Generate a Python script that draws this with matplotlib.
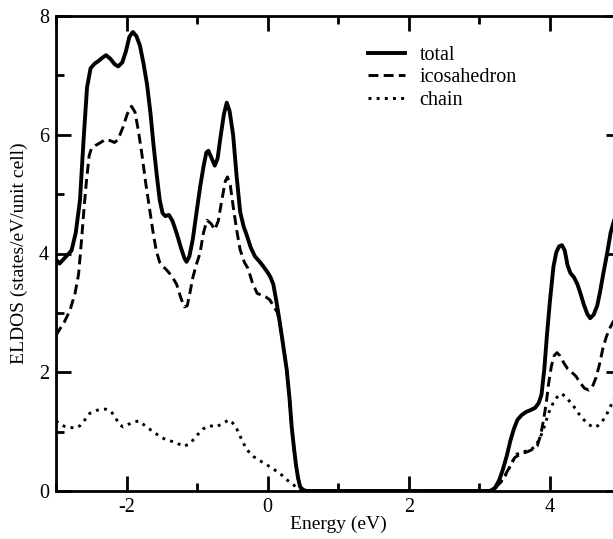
"""
Electronic local density of states: total, icosahedron and chain projections.
"""

import matplotlib
matplotlib.use("Agg")
import matplotlib.pyplot as plt
from matplotlib.ticker import MultipleLocator

# ── Data ──────────────────────────────────────────────────────────────────────
E_TOTAL = [
    -3.00, -2.95, -2.88, -2.78, -2.72, -2.66, -2.61, -2.56, -2.51, -2.45,
    -2.40, -2.34, -2.29, -2.23, -2.17, -2.12, -2.06, -2.01, -1.96, -1.91,
    -1.86, -1.81, -1.76, -1.71, -1.66, -1.62, -1.57, -1.53, -1.49, -1.45,
    -1.40, -1.35, -1.29, -1.23, -1.18, -1.15, -1.11, -1.06, -1.01, -0.96,
    -0.91, -0.87, -0.84, -0.80, -0.75, -0.71, -0.67, -0.62, -0.58, -0.54,
    -0.49, -0.44, -0.39, -0.34, -0.30, -0.24, -0.18, -0.12, -0.06, 0.00,
    0.04, 0.08, 0.13, 0.18, 0.22, 0.27, 0.31, 0.34, 0.37, 0.40,
    0.43, 0.46, 0.50, 0.55, 3.15, 3.22, 3.28, 3.33, 3.39, 3.44,
    3.49, 3.54, 3.60, 3.66, 3.72, 3.79, 3.84, 3.88, 3.92, 3.96,
    4.00, 4.05, 4.09, 4.13, 4.17, 4.21, 4.25, 4.29, 4.34, 4.39,
    4.44, 4.48, 4.53, 4.57, 4.62, 4.67, 4.71, 4.75, 4.81, 4.86,
    4.90, 4.95, 5.00,
]
DOS_TOTAL = [
    3.90, 3.83, 3.92, 4.05, 4.35, 4.90, 5.90, 6.80, 7.12, 7.20,
    7.24, 7.30, 7.34, 7.28, 7.19, 7.15, 7.22, 7.40, 7.65, 7.73,
    7.66, 7.50, 7.20, 6.85, 6.35, 5.85, 5.30, 4.90, 4.68, 4.63,
    4.65, 4.55, 4.34, 4.10, 3.92, 3.86, 3.95, 4.25, 4.68, 5.10,
    5.46, 5.70, 5.73, 5.62, 5.48, 5.60, 5.95, 6.35, 6.54, 6.40,
    6.00, 5.30, 4.70, 4.45, 4.32, 4.10, 3.95, 3.87, 3.78, 3.68,
    3.60, 3.48, 3.15, 2.77, 2.45, 2.04, 1.55, 1.08, 0.75, 0.45,
    0.22, 0.07, 0.02, 0.00, 0.00, 0.05, 0.18, 0.35, 0.60, 0.85,
    1.05, 1.20, 1.28, 1.33, 1.36, 1.40, 1.48, 1.62, 2.05, 2.66,
    3.20, 3.78, 4.02, 4.12, 4.14, 4.05, 3.80, 3.67, 3.60, 3.48,
    3.30, 3.14, 2.98, 2.91, 2.97, 3.12, 3.35, 3.62, 4.00, 4.35,
    4.52, 4.72, 4.85,
]

E_ICOSA = [
    -3.00, -2.95, -2.88, -2.80, -2.73, -2.68, -2.64, -2.60, -2.57, -2.53,
    -2.50, -2.44, -2.38, -2.30, -2.23, -2.17, -2.12, -2.05, -1.99, -1.93,
    -1.88, -1.83, -1.78, -1.73, -1.68, -1.63, -1.58, -1.53, -1.48, -1.43,
    -1.36, -1.29, -1.23, -1.18, -1.14, -1.10, -1.06, -1.01, -0.96, -0.91,
    -0.86, -0.80, -0.75, -0.70, -0.65, -0.60, -0.57, -0.53, -0.49, -0.44,
    -0.39, -0.33, -0.28, -0.22, -0.15, -0.09, -0.03, 0.03, 0.09, 0.14,
    0.18, 0.22, 0.27, 0.31, 0.34, 0.37, 0.40, 0.43, 0.46, 0.50,
    0.55, 3.15, 3.22, 3.28, 3.34, 3.39, 3.45, 3.50, 3.55, 3.62,
    3.68, 3.75, 3.82, 3.87, 3.91, 3.95, 3.98, 4.02, 4.06, 4.10,
    4.14, 4.20, 4.25, 4.31, 4.37, 4.43, 4.49, 4.55, 4.60, 4.65,
    4.70, 4.75, 4.80, 4.86, 4.92, 5.00,
]
DOS_ICOSA = [
    2.62, 2.72, 2.85, 3.05, 3.33, 3.65, 4.20, 4.80, 5.20, 5.65,
    5.76, 5.82, 5.86, 5.92, 5.90, 5.87, 5.92, 6.13, 6.35, 6.48,
    6.38, 6.05, 5.65, 5.20, 4.80, 4.40, 4.05, 3.85, 3.78, 3.72,
    3.62, 3.48, 3.25, 3.10, 3.12, 3.35, 3.60, 3.82, 4.00, 4.35,
    4.56, 4.50, 4.40, 4.55, 4.90, 5.22, 5.29, 5.15, 4.80, 4.40,
    4.06, 3.85, 3.75, 3.52, 3.33, 3.30, 3.27, 3.22, 3.10, 3.00,
    2.77, 2.45, 2.04, 1.55, 1.08, 0.75, 0.45, 0.22, 0.07, 0.02,
    0.00, 0.00, 0.04, 0.12, 0.22, 0.32, 0.45, 0.56, 0.60, 0.64,
    0.66, 0.70, 0.76, 0.95, 1.20, 1.50, 1.80, 2.10, 2.28, 2.33,
    2.28, 2.15, 2.06, 2.00, 1.93, 1.82, 1.73, 1.70, 1.75, 1.90,
    2.12, 2.40, 2.60, 2.77, 2.90, 3.00,
]

E_CHAIN = [
    -3.00, -2.94, -2.86, -2.80, -2.72, -2.66, -2.59, -2.52, -2.42, -2.30,
    -2.22, -2.16, -2.10, -2.05, -1.98, -1.90, -1.83, -1.76, -1.71, -1.62,
    -1.52, -1.43, -1.31, -1.19, -1.10, -1.00, -0.91, -0.82, -0.73, -0.63,
    -0.55, -0.50, -0.44, -0.39, -0.30, -0.20, -0.11, -0.01, 0.08, 0.18,
    0.27, 0.37, 0.43, 0.50, 3.15, 3.22, 3.30, 3.39, 3.46, 3.53,
    3.62, 3.72, 3.80, 3.87, 3.93, 3.98, 4.04, 4.10, 4.17, 4.25,
    4.34, 4.41, 4.48, 4.55, 4.62, 4.68, 4.74, 4.80, 4.88, 4.95,
    5.00,
]
DOS_CHAIN = [
    1.18, 1.12, 1.08, 1.07, 1.06, 1.10, 1.20, 1.31, 1.36, 1.38,
    1.34, 1.24, 1.12, 1.08, 1.12, 1.16, 1.18, 1.12, 1.07, 1.00,
    0.91, 0.86, 0.82, 0.75, 0.80, 0.94, 1.05, 1.10, 1.08, 1.14,
    1.20, 1.15, 1.05, 0.92, 0.70, 0.58, 0.51, 0.44, 0.37, 0.29,
    0.19, 0.10, 0.03, 0.00, 0.00, 0.04, 0.14, 0.30, 0.48, 0.62,
    0.66, 0.69, 0.76, 0.92, 1.12, 1.31, 1.47, 1.58, 1.64, 1.55,
    1.42, 1.30, 1.20, 1.12, 1.07, 1.10, 1.17, 1.28, 1.48, 1.65,
    1.75,
]

LABELS = ["total", "icosahedron", "chain"]

# ── Style ─────────────────────────────────────────────────────────────────────
plt.rcParams["font.family"] = ["Liberation Serif", "DejaVu Serif"]
plt.rcParams["axes.unicode_minus"] = False

fig = plt.figure(figsize=(6.13, 5.39), dpi=100)
# axes run past the right edge of the canvas, as in the reference crop
ax = fig.add_axes([56 / 613, 1 - 491 / 539, 564.5 / 613, 475 / 539])

ax.plot(E_TOTAL, DOS_TOTAL, color="black", lw=2.8, label=LABELS[0],
        solid_joinstyle="round", zorder=4)
ax.plot(E_ICOSA, DOS_ICOSA, color="black", lw=2.1, ls=(0, (3.4, 1.8)),
        label=LABELS[1], zorder=3)
ax.plot(E_CHAIN, DOS_CHAIN, color="black", lw=2.1, ls=(0, (1, 1.8)),
        label=LABELS[2], zorder=2)

ax.set_xlim(-3, 5)
ax.set_ylim(0, 8)
ax.xaxis.set_major_locator(MultipleLocator(2))
ax.xaxis.set_minor_locator(MultipleLocator(1))
ax.yaxis.set_major_locator(MultipleLocator(2))
ax.yaxis.set_minor_locator(MultipleLocator(1))

for s in ax.spines.values():
    s.set_linewidth(2.0)
ax.tick_params(which="both", direction="in", top=True, right=True,
               width=2.0, labelsize=14.5)
ax.tick_params(which="major", length=11, pad=5)
ax.tick_params(which="minor", length=6)

ax.set_xlabel("Energy (eV)", fontsize=14)
ax.set_ylabel("ELDOS (states/eV/unit cell)", fontsize=14)
ax.xaxis.set_label_coords(0.5, -0.052)
ax.yaxis.set_label_coords(-0.049, 0.5)

ax.legend(loc="upper left", bbox_to_anchor=(0.553, 0.937), frameon=False,
          fontsize=14.5, handlelength=1.85, handletextpad=0.7,
          labelspacing=0.16, borderpad=0, borderaxespad=0)

fig.savefig("out.png", dpi=100)
